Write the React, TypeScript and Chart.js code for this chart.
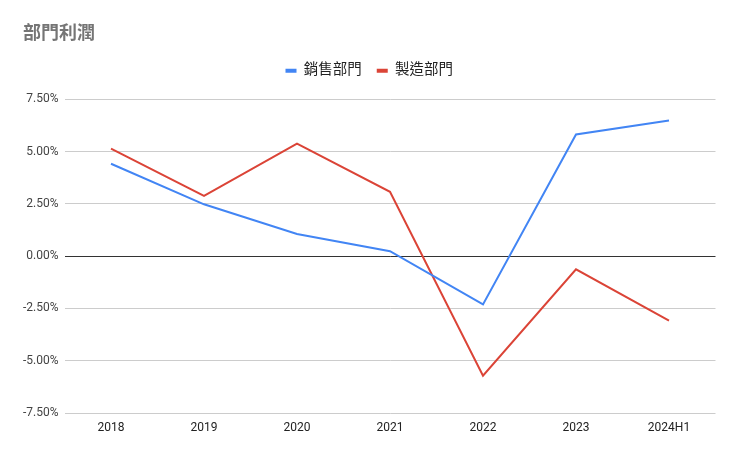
import React, { useEffect, useRef } from "react";
import { Chart, registerables } from "chart.js";

Chart.register(...registerables);

const categories = ["2018", "2019", "2020", "2021", "2022", "2023", "2024H1"];
const salesLabel = "銷售部門";
const salesValues = [4.42, 2.48, 1.06, 0.24, -2.31, 5.82, 6.49];
const mfgLabel = "製造部門";
const mfgValues = [5.14, 2.88, 5.38, 3.08, -5.72, -0.63, -3.08];
const yTicks = [-7.5, -5, -2.5, 0, 2.5, 5, 7.5];
const titleText = "部門利潤";

const FONT = "Roboto, 'Noto Sans CJK TC', 'Noto Sans CJK JP', sans-serif";

export default function App() {
  const ref = useRef<HTMLCanvasElement | null>(null);

  useEffect(() => {
    document.body.style.margin = "0";
    const canvas = ref.current;
    if (!canvas) return;

    const legendSpacer = {
      id: "legendSpacer",
      beforeInit(chart: any) {
        const legend = chart.legend;
        if (!legend) return;
        const orig = legend.fit;
        legend.fit = function () {
          orig.call(this);
          this.height += 11.25;
        };
      },
    };

    const chart = new Chart(canvas, {
      type: "line",
      data: {
        labels: categories,
        datasets: [
          {
            label: salesLabel,
            data: salesValues,
            borderColor: "#4285F4",
            backgroundColor: "#4285F4",
            borderWidth: 2,
            pointRadius: 0,
            tension: 0,
          },
          {
            label: mfgLabel,
            data: mfgValues,
            borderColor: "#DB4437",
            backgroundColor: "#DB4437",
            borderWidth: 2,
            pointRadius: 0,
            tension: 0,
          },
        ],
      },
      options: {
        responsive: false,
        animation: false,
        devicePixelRatio: 1,
        layout: { padding: { top: 0, left: 23, right: 24.5, bottom: 0 } },
        plugins: {
          title: {
            display: true,
            text: titleText,
            align: "start",
            color: "#757575",
            font: { family: FONT, size: 18, weight: "bold" },
            padding: { top: 24, bottom: 3 },
          },
          legend: {
            display: true,
            position: "top",
            align: "center",
            labels: {
              boxWidth: 11,
              boxHeight: 4,
              padding: 15,
              color: "#222",
              font: { family: FONT, size: 14.5 },
              generateLabels(chart: any) {
                const items = Chart.defaults.plugins.legend.labels.generateLabels(chart);
                return items.map((it: any) => ({ ...it, lineWidth: 0 }));
              },
            },
          },
          tooltip: { enabled: false },
        },
        scales: {
          x: {
            offset: true,
            grid: { display: false, drawTicks: false },
            border: { display: false },
            ticks: {
              color: "#222",
              font: { family: FONT, size: 12 },
              padding: 8,
              maxRotation: 0,
            },
            afterFit(scale: any) {
              scale.height = 45;
            },
          },
          y: {
            min: yTicks[0],
            max: yTicks[yTicks.length - 1],
            afterBuildTicks(scale: any) {
              scale.ticks = yTicks.map((v) => ({ value: v }));
            },
            grid: {
              drawTicks: false,
              color: (ctx: any) => (ctx.tick && ctx.tick.value === 0 ? "#333333" : "#cccccc"),
              lineWidth: 1,
            },
            border: { display: false },
            ticks: {
              color: "#444",
              font: { family: FONT, size: 12 },
              padding: 6,
              callback: (v: any) => Number(v).toFixed(2) + "%",
            },
            afterFit(scale: any) {
              scale.width = 41.5;
            },
          },
        },
      },
      plugins: [legendSpacer],
    });

    return () => chart.destroy();
  }, []);

  return (
    <div style={{ position: "absolute", left: 0, top: 0, width: 740, height: 458, background: "#fff" }}>
      <canvas ref={ref} width={740} height={458} />
    </div>
  );
}
